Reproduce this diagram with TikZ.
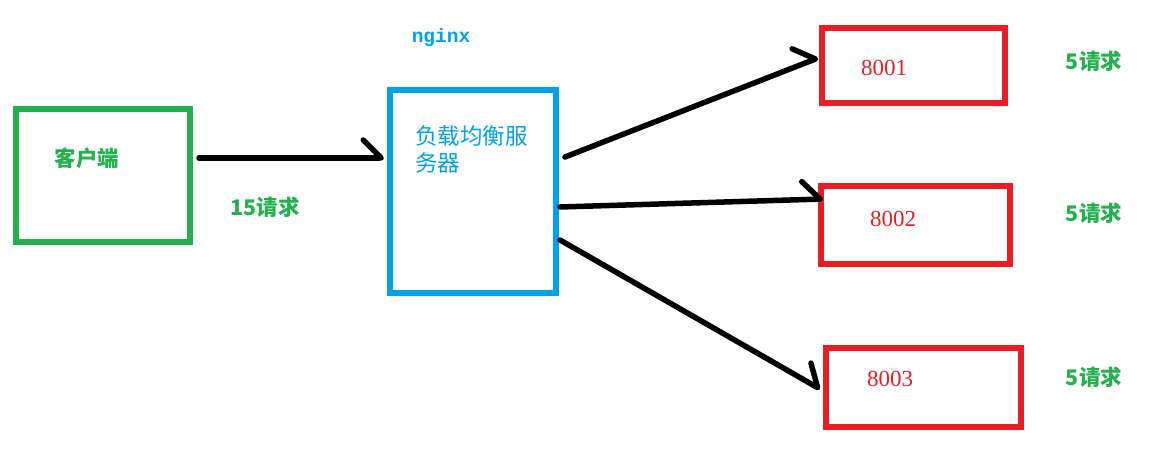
\documentclass[tikz,border=0pt]{standalone}
\usepackage{fontspec}
\newfontfamily\cjk{Noto Sans CJK SC}
\newfontfamily\monofnt{Liberation Mono}
\newfontfamily\seriffnt{Liberation Serif}
\usetikzlibrary{arrows.meta,calc}
\definecolor{paintGreen}{RGB}{34,177,76}
\definecolor{paintBlue}{RGB}{0,162,232}
\definecolor{paintRed}{RGB}{237,28,36}
\tikzset{
    box/.style={rectangle,draw=#1,line width=6pt,inner sep=0pt},
    req/.style={font=\cjk\bfseries\fontsize{21.5}{24}\selectfont,text=paintGreen,inner sep=0pt},
    port/.style={font=\seriffnt\fontsize{23}{24}\selectfont,text=paintRed,inner sep=0pt},
    flow/.style={line width=5.5pt,line cap=round,line join=round,
        -{Straight Barb[left,length=18pt,width=36pt,line cap=round,line join=round]}}
}

\begin{document}
\begin{tikzpicture}[x=1pt,y=-1pt]
  \useasboundingbox (0,0) rectangle (1153,449);

  \node[box=paintGreen,minimum width=174pt,minimum height=133pt] (client) at (103,175.5) {};
  \node[box=paintBlue,minimum width=166pt,minimum height=203pt]  (lb)     at (473,191.5) {};
  \node[box=paintRed,minimum width=183pt,minimum height=75pt]    (s1)     at (913.5,65.5) {};
  \node[box=paintRed,minimum width=189pt,minimum height=78pt]    (s2)     at (915.5,225) {};
  \node[box=paintRed,minimum width=195pt,minimum height=79pt]    (s3)     at (923.5,387.5) {};

  \draw[flow] ($(client.east)+(6,-17.5)$) -- ($(lb.west)+(-3,-33.5)$);
  \draw[flow] ($(lb.east)+(6,-34.5)$) -- ($(s1.west)+(-1,-7.5)$);
  \draw[flow] ($(lb.east)+(1,15.5)$) -- ($(s2.west)+(5,-26)$);
  \draw[flow] ($(lb.east)+(1,48.5)$) -- ($(s3.west)+(-3,1.5)$);

  \node[req] at (87,158) {客户端};
  \node[req] at (265,207) {15请求};
  \node[font=\monofnt\bfseries\fontsize{19.5}{20}\selectfont,text=paintBlue,inner sep=0pt] (ng) at (441,38) {nginx};
  \node[font=\cjk\fontsize{22.5}{27}\selectfont,text=paintBlue,inner sep=0pt,align=left,anchor=north west] (lbtext) at (415,125) {负载均衡服\\务器};
  \node[port] at (884,68) {8001};
  \node[port] at (893,219) {8002};
  \node[port] at (890,379) {8003};
  \node[req] at (1094,61) {5请求};
  \node[req] at (1094,213) {5请求};
  \node[req] at (1094,377) {5请求};
\end{tikzpicture}
\end{document}
